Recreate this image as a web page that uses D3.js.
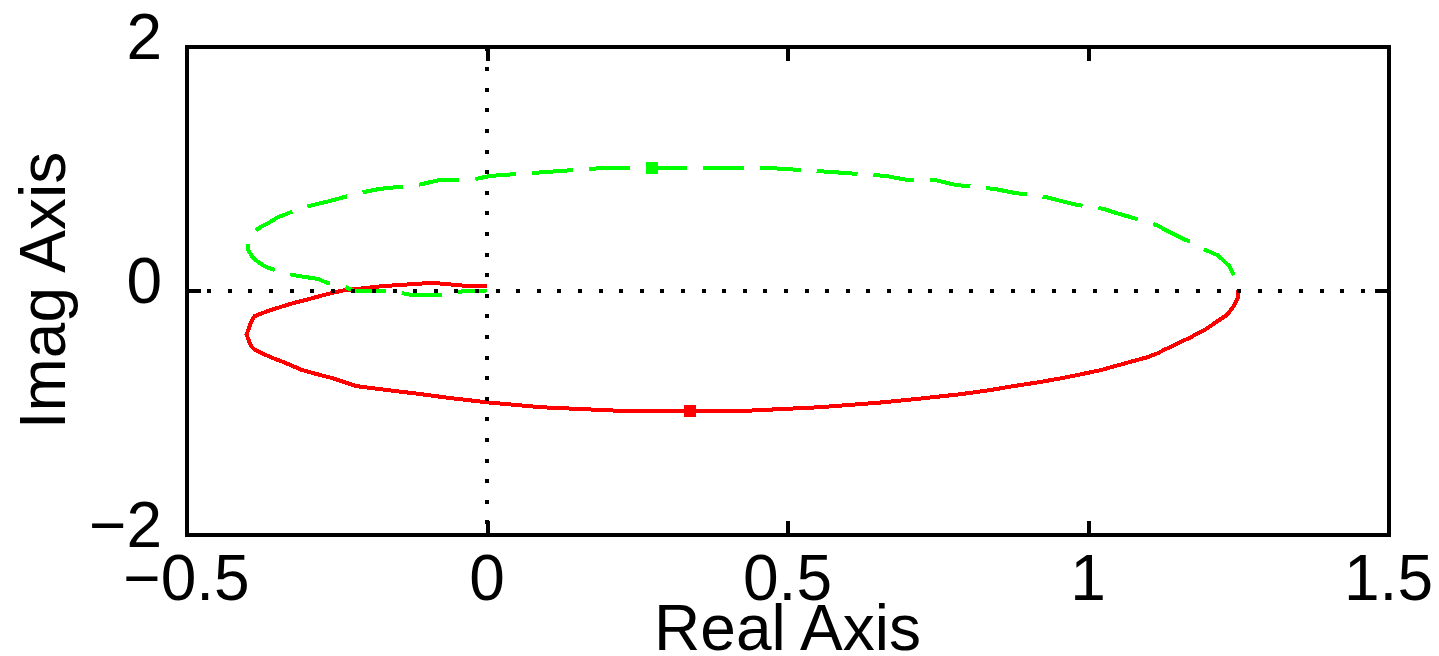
<!DOCTYPE html>
<html>
<head>
<meta charset="utf-8">
<script src="https://cdn.jsdelivr.net/npm/d3@7"></script>
<style>
  html, body { margin: 0; padding: 0; background: #fff; }
  svg { display: block; }
  text { font-family: "Liberation Sans", Arial, sans-serif; fill: #000; }
</style>
</head>
<body>
<svg id="chart" width="1439" height="656"></svg>
<script>
// ---- data ----
const xTicks = [-0.5, 0, 0.5, 1, 1.5];
const xTickLabels = ["\u22120.5", "0", "0.5", "1", "1.5"];
const yTicks = [-2, 0, 2];
const yTickLabels = ["\u22122", "0", "2"];
const xLabel = "Real Axis";
const yLabel = "Imag Axis";

// positive-frequency branch (solid red), from origin to the right crossing
const redRe = [0.000, -0.029, -0.091, -0.176, -0.240, -0.270, -0.299, -0.325, -0.350, -0.370,
  -0.387, -0.393, -0.400, -0.393, -0.387, -0.374, -0.360, -0.342, -0.325, -0.309,
  -0.285, -0.257, -0.237, -0.217, -0.169, -0.114, -0.059, 0.007, 0.091, 0.234,
  0.337, 0.418, 0.553, 0.651, 0.723, 0.788, 0.836, 0.876, 0.918, 0.956,
  0.989, 1.021, 1.047, 1.074, 1.099, 1.116, 1.129, 1.144, 1.157, 1.171,
  1.184, 1.197, 1.209, 1.219, 1.229, 1.235, 1.242, 1.249, 1.250];
const redIm = [0.035, 0.035, 0.063, 0.035, 0.000, -0.035, -0.074, -0.107, -0.145, -0.178,
  -0.211, -0.266, -0.361, -0.451, -0.484, -0.514, -0.547, -0.580, -0.615, -0.650,
  -0.683, -0.719, -0.752, -0.784, -0.814, -0.847, -0.883, -0.920, -0.957, -0.989,
  -0.989, -0.989, -0.957, -0.920, -0.885, -0.850, -0.817, -0.784, -0.752, -0.719,
  -0.686, -0.653, -0.617, -0.580, -0.547, -0.514, -0.481, -0.448, -0.416, -0.383,
  -0.347, -0.314, -0.273, -0.240, -0.207, -0.178, -0.129, -0.063, 0.000];

// negative-frequency branch (dashed green), from the right crossing to the origin
const greenRe = [1.250, 1.248, 1.241, 1.235, 1.228, 1.221, 1.215, 1.180, 1.170, 1.156,
  1.143, 1.128, 1.118, 1.073, 1.047, 1.027, 0.982, 0.955, 0.930, 0.879,
  0.845, 0.780, 0.745, 0.699, 0.664, 0.574, 0.470, 0.383, 0.288, 0.193,
  0.097, 0.005, -0.030, -0.082, -0.115, -0.180, -0.213, -0.261, -0.290, -0.313,
  -0.349, -0.361, -0.374, -0.384, -0.391, -0.398, -0.398, -0.390, -0.378, -0.368,
  -0.348, -0.323, -0.281, -0.265, -0.236, -0.220, -0.158, -0.126, -0.073, -0.038, 0.000];
const greenIm = [0.000, 0.045, 0.143, 0.201, 0.234, 0.266, 0.291, 0.365, 0.398, 0.430,
  0.463, 0.496, 0.529, 0.598, 0.635, 0.668, 0.701, 0.734, 0.766, 0.799,
  0.832, 0.865, 0.906, 0.906, 0.939, 0.971, 1.004, 1.004, 1.004, 1.004,
  0.971, 0.939, 0.902, 0.902, 0.865, 0.832, 0.799, 0.734, 0.701, 0.668,
  0.598, 0.561, 0.529, 0.496, 0.463, 0.398, 0.340, 0.270, 0.225, 0.193,
  0.160, 0.127, 0.094, 0.061, 0.029, -0.004, -0.004, -0.037, -0.037, -0.004, 0.000];

const redMarker = [0.337, -0.984];
const greenMarker = [0.275, 1.004];

// ---- drawing ----
const svg = d3.select("#chart");
const x = d3.scaleLinear().domain([-0.5, 1.5]).range([186.5, 1388.5]);
const y = d3.scaleLinear().domain([-2, 2]).range([534.5, 46.5]);
const LW = 4;
const tickLen = 14;

const line = d3.line().x(d => x(d[0])).y(d => y(d[1])).curve(d3.curveLinear);
const redPts = redRe.map((r, i) => [r, redIm[i]]);
const greenPts = greenRe.map((r, i) => [r, greenIm[i]]);

const plot = svg.append("g").attr("shape-rendering", "crispEdges");

plot.append("path").datum(redPts)
  .attr("d", line).attr("fill", "none").attr("stroke", "#ff0000")
  .attr("stroke-width", LW).attr("stroke-linejoin", "miter");

plot.append("path").datum(greenPts)
  .attr("d", line).attr("fill", "none").attr("stroke", "#00ff00")
  .attr("stroke-width", LW).attr("stroke-dasharray", "41 16")
  .attr("stroke-dashoffset", 41);

const mk = 12;
plot.append("rect")
  .attr("x", x(redMarker[0]) - mk / 2).attr("y", y(redMarker[1]) - mk / 2)
  .attr("width", mk).attr("height", mk).attr("fill", "#ff0000");
plot.append("rect")
  .attr("x", x(greenMarker[0]) - mk / 2).attr("y", y(greenMarker[1]) - mk / 2)
  .attr("width", mk).attr("height", mk).attr("fill", "#00ff00");

// dotted zero lines
plot.append("line")
  .attr("x1", x(-0.5)).attr("x2", x(1.5)).attr("y1", y(0)).attr("y2", y(0))
  .attr("stroke", "#000").attr("stroke-width", LW).attr("stroke-dasharray", "4 16.6");
plot.append("line")
  .attr("x1", x(0)).attr("x2", x(0)).attr("y1", y(2)).attr("y2", y(-2))
  .attr("stroke", "#000").attr("stroke-width", LW).attr("stroke-dasharray", "4 16.6");

// frame + ticks
function styleAxis(g) {
  g.select(".domain").remove();
  g.selectAll(".tick line").attr("stroke", "#000").attr("stroke-width", LW);
  g.selectAll(".tick text").remove();
}
plot.append("g").attr("transform", `translate(0,${y(-2)})`)
  .call(d3.axisBottom(x).tickValues(xTicks).tickSize(-tickLen)).call(styleAxis);
plot.append("g").attr("transform", `translate(0,${y(2)})`)
  .call(d3.axisTop(x).tickValues(xTicks).tickSize(-tickLen)).call(styleAxis);
plot.append("g").attr("transform", `translate(${x(-0.5)},0)`)
  .call(d3.axisLeft(y).tickValues(yTicks).tickSize(-tickLen)).call(styleAxis);
plot.append("g").attr("transform", `translate(${x(1.5)},0)`)
  .call(d3.axisRight(y).tickValues(yTicks).tickSize(-tickLen)).call(styleAxis);

plot.append("rect")
  .attr("x", x(-0.5)).attr("y", y(2))
  .attr("width", x(1.5) - x(-0.5)).attr("height", y(-2) - y(2))
  .attr("fill", "none").attr("stroke", "#000").attr("stroke-width", LW);

// tick labels
const fs = 64;
svg.append("g").selectAll("text").data(xTicks).join("text")
  .attr("x", d => x(d)).attr("y", 600)
  .attr("text-anchor", "middle").attr("font-size", fs)
  .text((d, i) => xTickLabels[i]);
svg.append("g").selectAll("text").data(yTicks).join("text")
  .attr("x", 162).attr("y", d => y(d) + 12)
  .attr("text-anchor", "end").attr("font-size", fs)
  .text((d, i) => yTickLabels[i]);

// axis titles
svg.append("text")
  .attr("x", (x(-0.5) + x(1.5)) / 2).attr("y", 650)
  .attr("text-anchor", "middle").attr("font-size", fs).text(xLabel);
svg.append("text")
  .attr("transform", `translate(65,${(y(2) + y(-2)) / 2}) rotate(-90)`)
  .attr("text-anchor", "middle").attr("font-size", fs).text(yLabel);
</script>
</body>
</html>
